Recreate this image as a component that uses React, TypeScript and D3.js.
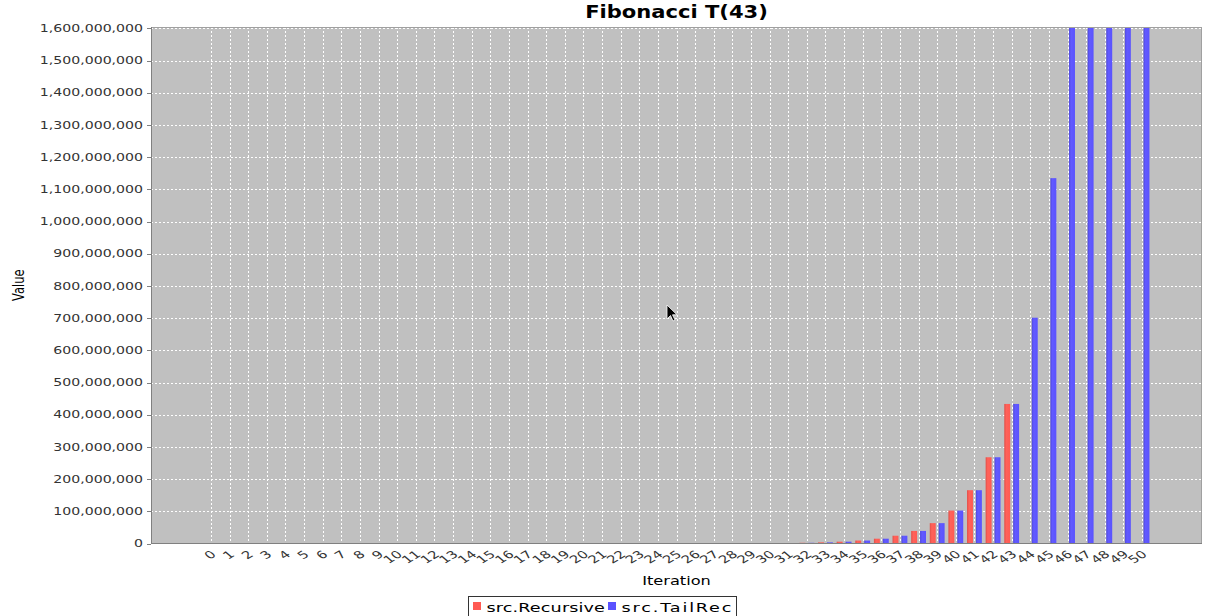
import React from 'react';
import * as d3 from 'd3';

// ---------- data ----------
const iterations: string[] = [
  '0', '1', '2', '3', '4', '5', '6', '7', '8', '9',
  '10', '11', '12', '13', '14', '15', '16', '17', '18', '19',
  '20', '21', '22', '23', '24', '25', '26', '27', '28', '29',
  '30', '31', '32', '33', '34', '35', '36', '37', '38', '39',
  '40', '41', '42', '43', '44', '45', '46', '47', '48', '49', '50',
];

const seriesNames: string[] = ['src.Recursive', 'src.TailRec'];

// src.Recursive: computed up to iteration 43
const recursiveValues: number[] = [
  0, 1, 1, 2, 3, 5, 8, 13, 21, 34,
  55, 89, 144, 233, 377, 610, 987, 1597, 2584, 4181,
  6765, 10946, 17711, 28657, 46368, 75025, 121393, 196418, 317811, 514229,
  832040, 1346269, 2178309, 3524578, 5702887, 9227465, 14930352, 24157817, 39088169, 63245986,
  102334155, 165580141, 267914296, 433494437,
];

// src.TailRec: computed up to iteration 50
const tailRecValues: number[] = [
  0, 1, 1, 2, 3, 5, 8, 13, 21, 34,
  55, 89, 144, 233, 377, 610, 987, 1597, 2584, 4181,
  6765, 10946, 17711, 28657, 46368, 75025, 121393, 196418, 317811, 514229,
  832040, 1346269, 2178309, 3524578, 5702887, 9227465, 14930352, 24157817, 39088169, 63245986,
  102334155, 165580141, 267914296, 433494437, 701408733, 1134903170, 1836311903, 2971215073, 4807526976, 7778742049,
  12586269025,
];

const yTicks: number[] = [
  0, 100000000, 200000000, 300000000, 400000000, 500000000, 600000000, 700000000,
  800000000, 900000000, 1000000000, 1100000000, 1200000000, 1300000000, 1400000000,
  1500000000, 1600000000,
];

const titleText = 'Fibonacci T(43)';
const xLabel = 'Iteration';
const yLabel = 'Value';

// ---------- layout ----------
const W = 1209;
const H = 616;
const plot = { left: 151, top: 27, right: 1202, bottom: 543.5 };
const SX = 1.41; // horizontal stretch of the original screenshot
const FONT = "'DejaVu Sans', sans-serif";
const colors = ['#FF5A52', '#5A52FF'];
const legendTextWidths = [84, 78];

export default function App() {
  const plotW = plot.right - plot.left;
  const lowerMargin = 0.05 * plotW;

  const x = d3
    .scaleBand<string>()
    .domain(iterations)
    .range([plot.left + lowerMargin, plot.right - lowerMargin])
    .paddingInner(0.2032)
    .paddingOuter(0);

  const xInner = d3
    .scaleBand<string>()
    .domain(seriesNames)
    .range([0, x.bandwidth()])
    .paddingInner(1 / 3)
    .paddingOuter(0);

  const y = d3
    .scaleLinear()
    .domain([0, 1604400000])
    .range([plot.bottom, plot.top]);

  const fmt = d3.format(',');

  const series = [recursiveValues, tailRecValues];

  const legendItems = seriesNames.map((name, i) => ({ name, color: colors[i] }));

  return (
    <svg
      width={W}
      height={H}
      style={{ position: 'absolute', left: 0, top: 0, background: '#fff' }}
      fontFamily={FONT}
    >
      <defs>
        <clipPath id="plotClip">
          <rect x={plot.left} y={plot.top} width={plotW} height={plot.bottom - plot.top} />
        </clipPath>
        {colors.map((c, i) => (
          <linearGradient key={i} id={`grad${i}`} x1="0" x2="1" y1="0" y2="0">
            <stop offset="0%" stopColor={d3.color(c)!.darker(0.35).toString()} />
            <stop offset="35%" stopColor={d3.color(c)!.brighter(0.25).toString()} />
            <stop offset="100%" stopColor={c} />
          </linearGradient>
        ))}
      </defs>

      {/* title */}
      <text
        transform={`translate(${(plot.left + plot.right) / 2}, 17.5) scale(1.24,1)`}
        textAnchor="middle"
        fontSize={17}
        fontWeight="bold"
        fill="#000"
      >
        {titleText}
      </text>

      {/* plot background */}
      <rect
        x={plot.left}
        y={plot.top}
        width={plotW}
        height={plot.bottom - plot.top}
        fill="#C0C0C0"
      />

      {/* gridlines */}
      <g stroke="#fff" strokeWidth={1} strokeDasharray="2,2">
        {yTicks.map((t) => (
          <line key={`h${t}`} x1={plot.left} x2={plot.right} y1={Math.round(y(t)) + 0.5} y2={Math.round(y(t)) + 0.5} />
        ))}
        {iterations.map((c) => {
          const cx = x(c)! + x.bandwidth() / 2;
          return <line key={`v${c}`} x1={Math.round(cx) + 0.5} x2={Math.round(cx) + 0.5} y1={plot.top} y2={plot.bottom} />;
        })}
      </g>

      {/* bars */}
      <g clipPath="url(#plotClip)">
        {series.map((vals, si) =>
          vals.map((v, i) => {
            const cat = iterations[i];
            const bx = x(cat)! + xInner(seriesNames[si])!;
            const by = y(v);
            return (
              <rect
                key={`${si}-${i}`}
                x={bx}
                y={by}
                width={xInner.bandwidth()}
                height={Math.max(0, plot.bottom - by)}
                fill={`url(#grad${si})`}
              />
            );
          })
        )}
      </g>

      {/* plot outline */}
      <rect
        x={plot.left + 0.5}
        y={plot.top + 0.5}
        width={plotW - 1}
        height={plot.bottom - plot.top - 0.5}
        fill="none"
        stroke="#A0A0A0"
      />
      {/* axis lines */}
      <line x1={plot.left + 0.5} x2={plot.left + 0.5} y1={plot.top} y2={plot.bottom} stroke="#808080" />
      <line x1={plot.left} x2={plot.right} y1={plot.bottom} y2={plot.bottom} stroke="#808080" />

      {/* y axis ticks & labels */}
      <g>
        {yTicks.map((t) => (
          <g key={`yt${t}`}>
            <line x1={plot.left - 4} x2={plot.left} y1={Math.round(y(t)) + 0.5} y2={Math.round(y(t)) + 0.5} stroke="#808080" />
            <text
              transform={`translate(${plot.left - 8}, ${y(t)}) scale(${SX},1)`}
              textAnchor="end"
              dy="0.36em"
              fontSize={10}
              fill="#333"
            >
              {fmt(t)}
            </text>
          </g>
        ))}
      </g>

      {/* x axis labels (rotated) */}
      <g>
        {iterations.map((c) => {
          const cx = x(c)! + x.bandwidth() / 2;
          return (
            <text
              key={`xl${c}`}
              transform={`translate(${cx + 6}, ${plot.bottom + 12}) scale(${SX},1) rotate(-40)`}
              textAnchor="end"
              fontSize={10.5}
              fill="#333"
            >
              {c}
            </text>
          );
        })}
      </g>

      {/* axis titles */}
      <text
        transform={`translate(${(plot.left + plot.right) / 2}, 585) scale(${SX},1)`}
        textAnchor="middle"
        fontSize={11.5}
        fill="#000"
      >
        {xLabel}
      </text>
      <text
        transform={`translate(24, ${(plot.top + plot.bottom) / 2}) scale(${SX},1) rotate(-90)`}
        textAnchor="middle"
        fontSize={11.5}
        fill="#000"
      >
        {yLabel}
      </text>

      {/* legend */}
      <g>
        <rect x={468.5} y={596.5} width={268} height={22} fill="#fff" stroke="#333" />
        {legendItems.map((it, i) => {
          const sx = i === 0 ? 473 : 608;
          return (
            <g key={it.name}>
              <rect x={sx} y={602} width={8} height={8} fill={it.color} />
              <text
                transform={`translate(${sx + 13.5}, 611.5) scale(${SX},1)`}
                fontSize={12.5}
                textLength={legendTextWidths[i]}
                lengthAdjust="spacing"
                fill="#000"
              >
                {it.name}
              </text>
            </g>
          );
        })}
      </g>

      {/* mouse cursor captured in the screenshot */}
      <path
        transform="translate(667, 305)"
        d="M0,0 L0,14 L3.5,10.5 L6,16 L8,15 L5.5,9.8 L10,9.8 Z"
        fill="#000"
        stroke="#fff"
        strokeWidth={0.8}
      />
    </svg>
  );
}
